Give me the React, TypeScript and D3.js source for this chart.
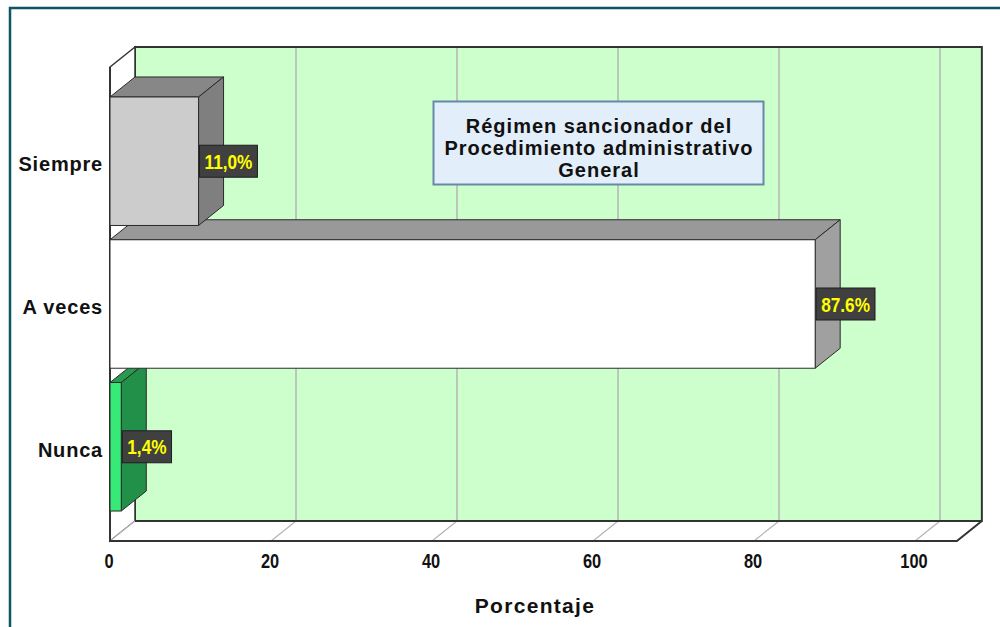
import React from "react";
import * as d3 from "d3";

// Survey answers and their shares (percent)
const categories = ["Siempre", "A veces", "Nunca"];
const percents = [11.0, 87.6, 1.4];
const valueLabels = ["11,0%", "87.6%", "1,4%"];
const tickValues = [0, 20, 40, 60, 80, 100];
const axisMax = 105.2;

// Face colours for each bar: front, top, side
const frontColors = ["#cccccc", "#ffffff", "#37ea78"];
const topColors = ["#878787", "#999999", "#2a9a52"];
const sideColors = ["#7f7f7f", "#a0a0a0", "#23904a"];

const titleLines = ["Régimen sancionador del", "Procedimiento administrativo", "General"];
const axisTitle = "Porcentaje";

const W = 1000;
const H = 627;
const DX = 25; // depth offset to the right
const DY = -20; // depth offset upward
const LEFT = 110;
const TOP = 67;
const BOTTOM = 541;
const NARROW = 0.82; // horizontal squeeze for condensed numerals

const mainFont = "'Liberation Sans', Arial, sans-serif";

function measure(text: string, font: string): number {
  const c = document.createElement("canvas").getContext("2d");
  if (!c) return text.length * 11;
  c.font = font;
  return c.measureText(text).width;
}

export default function App() {
  const x = d3.scaleLinear().domain([0, 100]).range([LEFT, 915]);
  const y = d3
    .scaleBand<string>()
    .domain(categories)
    .range([TOP, BOTTOM])
    .paddingInner(0.1)
    .paddingOuter(0.21);

  const right = x(axisMax);
  const pts = (arr: [number, number][]) => arr.map((p) => p.join(",")).join(" ");

  // draw lower bars first so upper bars' front faces overlap their top faces
  const order = d3.range(categories.length).reverse();

  return (
    <svg
      width={W}
      height={H}
      style={{ position: "absolute", left: 0, top: 0, background: "#fff" }}
    >
      {/* outer frame */}
      <rect x={10} y={8} width={1100} height={800} fill="#fff" stroke="#0e5566" strokeWidth={2.5} />

      {/* back wall */}
      <rect
        x={LEFT + DX}
        y={TOP + DY}
        width={right - LEFT}
        height={BOTTOM - TOP}
        fill="#ccffcc"
        stroke="#333"
        strokeWidth={2}
      />
      {tickValues
        .filter((v) => v > 0)
        .map((v) => (
          <line
            key={"g" + v}
            x1={x(v) + DX}
            x2={x(v) + DX}
            y1={TOP + DY + 1}
            y2={BOTTOM + DY - 1}
            stroke="#b4b4b4"
            strokeWidth={1.5}
          />
        ))}

      {/* left wall */}
      <polygon
        points={pts([
          [LEFT, TOP],
          [LEFT + DX, TOP + DY],
          [LEFT + DX, BOTTOM + DY],
          [LEFT, BOTTOM],
        ])}
        fill="#fff"
        stroke="#333"
        strokeWidth={1.5}
      />

      {/* floor */}
      <polygon
        points={pts([
          [LEFT, BOTTOM],
          [LEFT + DX, BOTTOM + DY],
          [right + DX, BOTTOM + DY],
          [right, BOTTOM],
        ])}
        fill="#fff"
        stroke="none"
      />
      {tickValues.map((v) => (
        <line
          key={"f" + v}
          x1={x(v)}
          y1={BOTTOM}
          x2={x(v) + DX}
          y2={BOTTOM + DY}
          stroke="#b4b4b4"
          strokeWidth={1.2}
        />
      ))}
      <line x1={LEFT + DX} y1={BOTTOM + DY} x2={right + DX} y2={BOTTOM + DY} stroke="#333" strokeWidth={2} />
      <polyline
        points={pts([
          [LEFT, TOP],
          [LEFT, BOTTOM],
          [right, BOTTOM],
          [right + DX, BOTTOM + DY],
        ])}
        fill="none"
        stroke="#333"
        strokeWidth={2}
      />

      {/* bars */}
      {order.map((i) => {
        const c = categories[i];
        const y0 = y(c)!;
        const y1 = y0 + y.bandwidth();
        const x0 = x(0);
        const x1 = x(percents[i]);
        return (
          <g key={c} stroke="#2a2a2a" strokeWidth={1} strokeLinejoin="round">
            <polygon
              points={pts([
                [x0, y0],
                [x0 + DX, y0 + DY],
                [x1 + DX, y0 + DY],
                [x1, y0],
              ])}
              fill={topColors[i]}
            />
            <polygon
              points={pts([
                [x1, y0],
                [x1 + DX, y0 + DY],
                [x1 + DX, y1 + DY],
                [x1, y1],
              ])}
              fill={sideColors[i]}
            />
            <rect x={x0} y={y0} width={x1 - x0} height={y1 - y0} fill={frontColors[i]} />
          </g>
        );
      })}

      {/* value labels */}
      {categories.map((c, i) => {
        const cy = y(c)! + y.bandwidth() / 2;
        const font = `bold 21px ${mainFont}`;
        const tw = measure(valueLabels[i], font) * NARROW;
        const bx = x(percents[i]) + 1;
        const bw = tw + 10;
        return (
          <g key={"l" + c}>
            <rect x={bx} y={cy - 16} width={bw} height={32} fill="#404040" stroke="#1e1e1e" strokeWidth={1} />
            <text
              transform={`translate(${bx + bw / 2},${cy + 7.5}) scale(${NARROW},1)`}
              textAnchor="middle"
              fill="#ffff00"
              style={{ font }}
            >
              {valueLabels[i]}
            </text>
          </g>
        );
      })}

      {/* category axis labels */}
      {categories.map((c) => (
        <text
          key={"c" + c}
          x={103}
          y={y(c)! + y.bandwidth() / 2 + 10}
          textAnchor="end"
          fill="#111"
          style={{ font: `bold 20px ${mainFont}`, letterSpacing: "0.8px" }}
        >
          {c}
        </text>
      ))}

      {/* value axis ticks */}
      {tickValues.map((v) => (
        <text
          key={"t" + v}
          transform={`translate(${x(v) - 1},568) scale(${NARROW},1)`}
          textAnchor="middle"
          fill="#111"
          style={{ font: `bold 20px ${mainFont}` }}
        >
          {v}
        </text>
      ))}
      <text
        x={535}
        y={613}
        textAnchor="middle"
        fill="#111"
        style={{ font: `bold 21px ${mainFont}`, letterSpacing: "1.3px" }}
      >
        {axisTitle}
      </text>

      {/* title box */}
      <rect x={433.5} y={101.5} width={330} height={83} fill="#e2eefa" stroke="#6688aa" strokeWidth={2} />
      {titleLines.map((t, i) => (
        <text
          key={"h" + i}
          x={599}
          y={133 + i * 22}
          textAnchor="middle"
          fill="#111"
          style={{ font: `bold 20px ${mainFont}`, letterSpacing: "1px" }}
        >
          {t}
        </text>
      ))}
    </svg>
  );
}
